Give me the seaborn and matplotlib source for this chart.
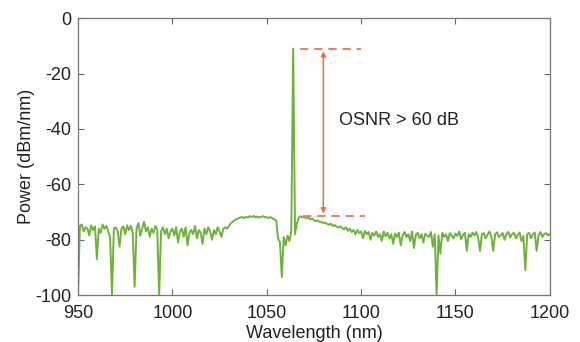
import numpy as np
import pandas as pd
import matplotlib
matplotlib.use('Agg')
import matplotlib.pyplot as plt
import seaborn as sns

# wavelength grid, 1 nm steps from 950 to 1200 nm
wavelength_nm = np.arange(950, 1201)

# power, one value per nm (rows of 10)
power_dbm = [
    -100, -75, -74.5, -77, -75.5, -76, -78.5, -74.8, -76.5, -75.2,
    -87, -76, -77.5, -74.5, -76, -75, -77, -79, -100, -76,
    -75.5, -77, -82.5, -76, -75.2, -78, -74.8, -76.5, -75, -77.5,
    -97, -76, -74, -78.5, -76, -73.5, -77, -75.5, -79, -76,
    -77.5, -75, -76.5, -100, -77, -75.5, -78, -76, -79.5, -77,
    -76, -78.5, -75.5, -81, -77, -76, -79, -75.5, -82, -77.5,
    -76.5, -78, -75, -79.5, -76.5, -77.5, -81.5, -76, -78, -75.5,
    -77, -80, -76.5, -78, -75.5, -77, -79, -76, -75.5, -76,
    -75, -74, -73.5, -73, -72.5, -72.3, -72, -71.8, -72.2, -71.7,
    -72, -71.5, -71.8, -71.4, -71.9, -71.6, -72, -71.7, -71.5, -71.8,
    -71.9, -72.1, -71.8, -72.3, -72.6, -73, -79.5, -81, -93.5, -79,
    -82, -78.5, -80.5, -77, -11, -78, -74, -72, -71.5, -72,
    -71.8, -72.3, -72, -72.6, -72.4, -72.9, -73.3, -73, -73.6, -73.5,
    -74, -73.8, -74.3, -74.6, -74.2, -75, -74.7, -75.3, -75.6, -75.1,
    -75.8, -76.2, -75.5, -76.8, -76, -77.2, -76.4, -78, -76.5, -77.6,
    -77, -79.5, -76.8, -78, -77.2, -80, -77.5, -78.5, -77, -79,
    -78, -80.5, -77, -78.8, -77.5, -79.5, -78, -81.5, -77.8, -79,
    -77.5, -82, -78.5, -77.2, -79, -78, -80.5, -77, -83, -78.2,
    -77.5, -79.5, -78, -81, -77.8, -78.5, -79, -77.2, -82.5, -78,
    -100, -78.5, -85, -77.5, -79, -78, -80.5, -77.6, -78.5, -79.5,
    -77.8, -78.6, -77, -79.8, -78.2, -77.5, -84, -78, -79, -77.4,
    -78.5, -77.2, -79.2, -84, -78, -77.6, -79.5, -78.2, -77, -78.8,
    -84, -78, -77.3, -79, -78.4, -77.6, -80, -78, -77.2, -79.2,
    -78, -77.5, -79.5, -78.2, -77.4, -80.5, -78.6, -91, -78, -77.5,
    -79.5, -78, -77.4, -84, -78.5, -77.2, -79, -78, -77.6, -78.4,
    -78,
]

# OSNR marker levels and spans
peak_level = -11
floor_level = -71.5
peak_span = [1067.5, 1100]
floor_span = [1069, 1102]
arrow_x = 1080
osnr_text = 'OSNR > 60 dB'

x_ticks = [950, 1000, 1050, 1100, 1150, 1200]
y_ticks = [0, -20, -40, -60, -80, -100]

green = '#6cb33a'
orange = '#f06a3c'

sns.set_theme(style='ticks')
plt.rcParams['font.family'] = ['Liberation Sans', 'DejaVu Sans']
plt.rcParams['axes.unicode_minus'] = False

df = pd.DataFrame({'Wavelength': wavelength_nm, 'Power': power_dbm})

fig = plt.figure(figsize=(5.8, 3.42), dpi=100)
ax = fig.add_axes([0.1345, 0.137, 0.8135, 0.81])
sns.lineplot(data=df, x='Wavelength', y='Power', color=green, lw=1.4,
             estimator=None, sort=False, ax=ax)

ax.hlines(peak_level, *peak_span, colors=orange, linestyles=(0, (5, 3.5)), lw=1.2)
ax.hlines(floor_level, *floor_span, colors=orange, linestyles=(0, (5, 3.5)), lw=1.2)
ax.annotate('', xy=(arrow_x, peak_level - 1), xytext=(arrow_x, floor_level + 1),
            arrowprops=dict(arrowstyle='<|-|>', color=orange, lw=1.1,
                            mutation_scale=7, shrinkA=0, shrinkB=0))
ax.text(1088.5, -37, osnr_text, fontsize=13, color='#222222', va='center')

ax.set_xlim(950, 1200)
ax.set_ylim(-100, 0)
ax.set_xticks(x_ticks)
ax.set_yticks(y_ticks)
ax.set_xlabel('Wavelength (nm)', fontsize=13, color='#222222', labelpad=2)
ax.set_ylabel('Power (dBm/nm)', fontsize=13, color='#222222', labelpad=0)
ax.tick_params(direction='in', length=4, width=0.8, colors='#666666',
               labelcolor='#222222', labelsize=13, top=True, right=True)
ax.tick_params(axis='x', pad=7)
ax.tick_params(axis='y', pad=5)
for s in ax.spines.values():
    s.set_color('#777777')
    s.set_linewidth(0.9)

fig.savefig('out.png', dpi=100)
